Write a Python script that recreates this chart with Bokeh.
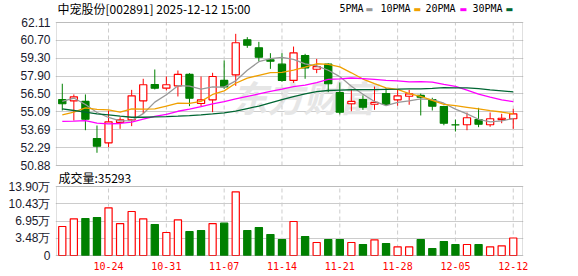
from bokeh.plotting import figure
from bokeh.models import (FixedTicker, Label, ColumnDataSource, Range1d, BoxAnnotation)
from bokeh.embed import file_html
from bokeh.resources import INLINE

# ---------------- data ----------------
dates = ["10-20", "10-21", "10-22", "10-23", "10-24",
         "10-27", "10-28", "10-29", "10-30", "10-31",
         "11-03", "11-04", "11-05", "11-06", "11-07",
         "11-10", "11-11", "11-12", "11-13", "11-14",
         "11-17", "11-18", "11-19", "11-20", "11-21",
         "11-24", "11-25", "11-26", "11-27", "11-28",
         "12-01", "12-02", "12-03", "12-04", "12-05",
         "12-08", "12-09", "12-10", "12-11", "12-12"]

opens = [56.06, 55.96, 55.91, 53.00, 52.66, 54.26, 54.47, 55.96, 57.24, 56.95,
         57.14, 58.03, 55.75, 56.04, 57.56, 58.00, 60.75, 60.12, 59.18, 58.84,
         57.56, 59.52, 58.44, 58.84, 56.60, 55.73, 56.06, 55.69, 56.53, 56.04,
         56.32, 56.38, 56.06, 55.51, 54.08, 54.08, 54.49, 54.08, 54.49, 54.55]
highs = [57.30, 56.46, 56.46, 54.02, 55.20, 54.67, 56.82, 57.69, 58.42, 57.87,
         58.34, 58.13, 57.87, 58.16, 59.13, 61.22, 60.96, 60.59, 59.70, 59.70,
         60.22, 59.65, 59.25, 58.91, 57.40, 56.87, 56.38, 57.08, 56.95, 56.82,
         56.82, 56.53, 56.20, 55.57, 54.49, 55.04, 55.41, 55.04, 54.94, 55.33]
lows = [55.20, 54.41, 53.65, 51.88, 52.32, 53.76, 53.97, 54.94, 56.85, 56.77,
        56.30, 55.54, 55.51, 55.07, 56.90, 57.14, 60.12, 59.05, 58.47, 57.45,
        57.37, 57.69, 58.13, 56.64, 54.89, 55.14, 55.25, 55.25, 55.57, 55.57,
        55.65, 54.81, 55.20, 54.04, 53.55, 53.65, 53.89, 53.92, 54.20, 53.76]
closes = [55.73, 56.27, 54.52, 52.40, 54.31, 54.47, 56.35, 57.22, 56.95, 57.22,
          58.03, 56.16, 56.04, 57.87, 57.06, 60.52, 60.33, 59.39, 59.07, 57.56,
          59.73, 58.55, 58.65, 57.30, 55.07, 55.91, 55.46, 55.83, 55.67, 56.35,
          56.51, 56.24, 55.54, 54.20, 54.06, 54.63, 54.12, 54.55, 54.59, 54.94]

# volume in units of 万 (10k)
volumes = [5.84, 7.39, 7.45, 7.65, 9.60, 6.44, 8.86, 7.39, 6.24, 4.63,
           7.19, 4.83, 5.03, 6.44, 6.51, 12.83, 5.03, 5.64, 4.23, 3.22,
           6.85, 3.83, 2.62, 3.22, 3.22, 2.62, 2.22, 3.16, 2.42, 1.75,
           1.75, 3.22, 1.41, 2.82, 2.22, 2.22, 2.22, 1.75, 1.95, 3.53]
vol_up = [True, True, False, False, True, True, True, True, False, True,
          True, False, False, True, False, True, False, False, False, False,
          True, False, True, False, False, True, False, True, False, True,
          True, False, False, False, False, True, False, True, True, True]

ma5 = [55.91, 56.18, 55.67, 55.04, 54.65, 54.39, 54.41, 54.95, 55.86, 56.44,
       57.15, 57.12, 56.88, 57.06, 57.03, 57.53, 58.36, 59.03, 59.27, 59.37,
       59.22, 58.86, 58.71, 58.36, 57.86, 57.10, 56.48, 55.91, 55.59, 55.84,
       55.96, 56.12, 56.06, 55.77, 55.31, 54.93, 54.51, 54.31, 54.39, 54.57]
ma10 = [54.86, 55.07, 55.41, 55.28, 55.25, 55.07, 55.33, 55.30, 55.33, 55.54,
        55.77, 55.76, 55.92, 56.46, 56.74, 57.34, 57.74, 57.96, 58.17, 58.20,
        58.37, 58.61, 58.87, 58.82, 58.62, 58.16, 57.67, 57.31, 56.97, 56.85,
        56.53, 56.30, 55.99, 55.68, 55.58, 55.45, 55.32, 55.19, 55.08, 54.94]
ma20 = [54.34, 54.36, 54.41, 54.20, 54.15, 54.18, 54.28, 54.52, 54.73, 54.89,
        55.14, 55.30, 55.50, 55.72, 55.90, 56.12, 56.30, 56.50, 56.70, 56.87,
        57.07, 57.19, 57.39, 57.64, 57.68, 57.75, 57.70, 57.64, 57.57, 57.53,
        57.45, 57.46, 57.43, 57.25, 57.10, 56.80, 56.49, 56.25, 56.03, 55.90]
ma30 = [55.33, 55.20, 55.07, 54.94, 54.86, 54.75, 54.67, 54.67, 54.70, 54.72,
        54.75, 54.80, 54.86, 54.93, 55.02, 55.15, 55.35, 55.55, 55.80, 56.05,
        56.28, 56.50, 56.68, 56.77, 56.80, 56.83, 56.84, 56.84, 56.86, 56.87,
        56.89, 56.89, 56.93, 56.99, 56.98, 56.98, 56.91, 56.82, 56.74, 56.66]

price_ticks = [50.88, 52.29, 53.69, 55.09, 56.50, 57.90, 59.30, 60.70, 62.11]
price_labels = ["50.88", "52.29", "53.69", "55.09", "56.50", "57.90", "59.30", "60.70", "62.11"]
vol_ticks = [0, 3.48, 6.95, 10.43, 13.90]
vol_labels = ["0", "3.48万", "6.95万", "10.43万", "13.90万"]
date_labels = ["10-24", "10-31", "11-07", "11-14", "11-21", "11-28", "12-05", "12-12"]

title_text = "中宠股份[002891] 2025-12-12 15:00"
volume_text = "成交量:35293"
ma_names = ["5PMA", "10PMA", "20PMA", "30PMA"]
ma_colors = ["#999999", "#f0a000", "#ff00ff", "#006633"]

# ---------------- styling / layout constants ----------------
RED = "#ff0000"
GREEN = "#008000"
GRID = "#cccccc"
BORDER = "#999999"
CJK = "Noto Sans CJK SC"
NUMF = "Liberation Sans"
MONO = "DejaVu Sans Mono"

# vertical layout of the single frame (pixels, top to bottom)
HEAD, PH, GAP, VH, FOOT = 22, 143, 21, 69, 1
FRAME_H = HEAD + PH + GAP + VH + FOOT
X0, X1 = -0.5, 39.8                       # category span of the plot boxes
PX = (X1 - X0) / 466.0                    # x data units per pixel
PPX = (price_ticks[-1] - price_ticks[0]) / PH
VPX = (vol_ticks[-1] - vol_ticks[0]) / VH

idx = list(range(len(dates)))
date_idx = [dates.index(d) for d in date_labels]

up = [c >= o for o, c in zip(opens, closes)]
src = ColumnDataSource(dict(
    x=idx, h=highs, l=lows,
    top=[max(o, c) for o, c in zip(opens, closes)],
    bot=[min(o, c) for o, c in zip(opens, closes)],
    lc=[RED if u else GREEN for u in up],
    fc=["white" if u else GREEN for u in up],
))
vsrc = ColumnDataSource(dict(
    x=idx, v=volumes,
    lc=[RED if u else GREEN for u in vol_up],
    fc=["white" if u else GREEN for u in vol_up],
))

y_start = price_ticks[0] - (GAP + VH + FOOT) * PPX
y_end = price_ticks[-1] + HEAD * PPX
v_start = vol_ticks[0] - FOOT * VPX
v_end = vol_ticks[-1] + (GAP + PH + HEAD) * VPX

p = figure(width=578, height=FRAME_H + 20, output_backend="svg", toolbar_location=None,
           x_range=Range1d(X0 - PX, X1 + PX), y_range=Range1d(y_start, y_end),
           min_border_left=55, min_border_right=55, min_border_top=0, min_border_bottom=20)
p.extra_y_ranges = {"vol": Range1d(v_start, v_end)}
p.background_fill_color = "white"
p.border_fill_color = "white"
p.outline_line_color = None
p.xgrid.visible = False

# the single left axis carries both the price ticks and the volume ticks
vol_tick_pos = [y_start + (FOOT + v / VPX) * PPX for v in vol_ticks]
all_ticks = price_ticks + vol_tick_pos
overrides = {t: s for t, s in zip(price_ticks, price_labels)}
overrides.update({t: s for t, s in zip(vol_tick_pos, vol_labels)})
p.yaxis.ticker = FixedTicker(ticks=all_ticks)
p.yaxis.major_label_overrides = overrides
p.ygrid.ticker = FixedTicker(ticks=all_ticks)
p.ygrid.grid_line_color = GRID

p.xaxis.ticker = FixedTicker(ticks=date_idx)
p.xaxis.major_label_overrides = {i: s for i, s in zip(date_idx, date_labels)}


def style_axis(ax, font, size, color, standoff):
    ax.axis_line_color = None
    ax.major_tick_line_color = None
    ax.minor_tick_line_color = None
    ax.major_tick_out = 0
    ax.major_tick_in = 0
    ax.major_label_standoff = standoff
    ax.major_label_text_font = font
    ax.major_label_text_font_size = size
    ax.major_label_text_color = color


style_axis(p.yaxis[0], NUMF, "12px", "#1a1a2e", 5)
style_axis(p.xaxis[0], MONO, "10px", RED, 5)

# dashed vertical date grid inside each box
n_d = len(date_idx)
p.segment(x0=date_idx, x1=date_idx, y0=[price_ticks[0]] * n_d, y1=[price_ticks[-1]] * n_d,
          line_color=GRID, line_dash="4 3", line_width=1)
p.segment(x0=date_idx, x1=date_idx, y0=[vol_ticks[0]] * n_d, y1=[vol_ticks[-1]] * n_d,
          line_color=GRID, line_dash="4 3", line_width=1, y_range_name="vol")

# watermark
p.add_layout(Label(x=248, y=161, x_units="screen", y_units="screen", text="东方财富",
                   text_font=CJK, text_font_size="36px", text_font_style="bold italic",
                   text_color="#e6e6e6", text_align="center", text_baseline="middle",
                   level="underlay"))

# candles
p.segment(x0="x", y0="h", x1="x", y1="l", line_color="lc", line_width=1, source=src)
p.vbar(x="x", width=0.62, top="top", bottom="bot", fill_color="fc", line_color="lc",
       line_width=1.2, source=src)

# moving averages
for vals, col in zip([ma5, ma10, ma20, ma30], ma_colors):
    p.line(idx, vals, line_color=col, line_width=1.3)

# volume bars
p.vbar(x="x", width=0.62, top="v", bottom=0, fill_color="fc", line_color="lc",
       line_width=1.2, source=vsrc, y_range_name="vol")

# plot boxes
p.add_layout(BoxAnnotation(left=X0, right=X1, bottom=price_ticks[0], top=price_ticks[-1],
                           fill_color=None, line_color=BORDER, line_width=1))
p.add_layout(BoxAnnotation(left=X0, right=X1, bottom=vol_ticks[0], top=vol_ticks[-1],
                           fill_color=None, line_color=BORDER, line_width=1,
                           y_range_name="vol"))

# header: title and MA legend (screen units from the frame's bottom-left)
ty = FRAME_H - 8
p.add_layout(Label(x=2, y=ty, x_units="screen", y_units="screen", text=title_text,
                   text_font=CJK, text_font_size="12px", text_color="#000000",
                   text_baseline="middle", text_align="left"))
leg_text_x = [284, 325, 370, 417]
leg_box_x = [310, 358, 404, 450]
for name, col, tx, bx in zip(ma_names, ma_colors, leg_text_x, leg_box_x):
    p.add_layout(Label(x=tx, y=ty, x_units="screen", y_units="screen", text=name,
                       text_font=MONO, text_font_size="10px", text_color="#000000",
                       text_baseline="middle", text_align="left"))
    p.add_layout(Label(x=bx, y=ty - 1, x_units="screen", y_units="screen", text="▬",
                       text_font="DejaVu Sans", text_font_size="8px", text_color=col,
                       text_baseline="middle", text_align="left"))

# volume caption
p.add_layout(Label(x=3, y=FRAME_H - 177, x_units="screen", y_units="screen", text=volume_text,
                   text_font=CJK, text_font_size="12px", text_color="#000000",
                   text_baseline="middle", text_align="left"))

open("out.html", "w").write(file_html(p, INLINE))
